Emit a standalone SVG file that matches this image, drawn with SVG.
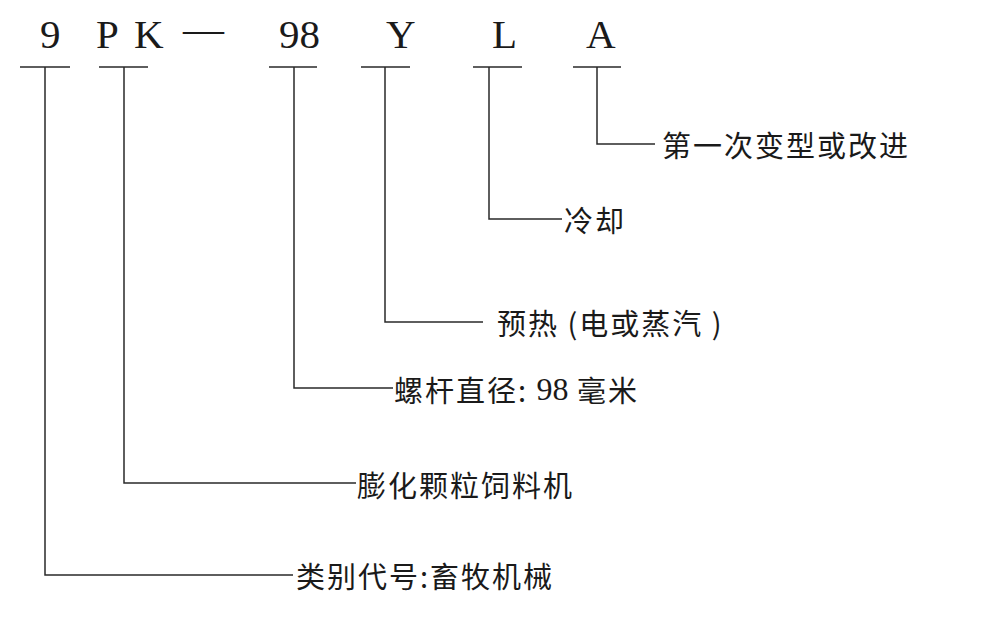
<svg xmlns="http://www.w3.org/2000/svg" width="989" height="622" viewBox="0 0 989 622">
<style>
.code{font-family:"Liberation Serif","Times New Roman",serif;font-size:41px;fill:#1a1a1a}
.lbl{font-family:"Noto Sans CJK SC","Noto Sans",sans-serif;font-size:29px;letter-spacing:2px;fill:#1a1a1a;dominant-baseline:central}
.num{font-family:"Liberation Serif","Times New Roman",serif;font-size:32px;letter-spacing:0}
.ln{fill:none;stroke:#2a2a2a;stroke-width:1.5}
</style>
<rect width="989" height="622" fill="#ffffff"/>
<g id="code">
<text class="code" x="40" y="48">9</text>
<text class="code" x="96" y="48">P</text>
<text class="code" x="134" y="48">K</text>
<text class="code" x="183" y="42">—</text>
<text class="code" x="279" y="48">98</text>
<text class="code" x="386" y="48">Y</text>
<text class="code" x="492" y="48">L</text>
<text class="code" x="586" y="48">A</text>
</g>
<g id="connectors">
<path class="ln" d="M20,67H70M45,67V575H293"/>
<path class="ln" d="M99,67H148M124,67V483H356"/>
<path class="ln" d="M269,67H317M294,67V388H393"/>
<path class="ln" d="M361,67H410M385,67V322H483"/>
<path class="ln" d="M473,67H522M489,67V219H562"/>
<path class="ln" d="M573,67H621M597,67V144H655"/>
</g>
<g id="label-a"><text class="lbl" x="662" y="144">第一次变型或改进</text></g>
<g id="label-l"><text class="lbl" x="564" y="219">冷却</text></g>
<g id="label-y"><text class="lbl" x="497" y="322">预热 (电或蒸汽 )</text></g>
<g id="label-98"><text class="lbl" x="394" y="389">螺杆直径: <tspan class="num">98</tspan> 毫米</text></g>
<g id="label-pk"><text class="lbl" x="357" y="484">膨化颗粒饲料机</text></g>
<g id="label-9"><text class="lbl" x="296" y="575">类别代号:畜牧机械</text></g>
</svg>
